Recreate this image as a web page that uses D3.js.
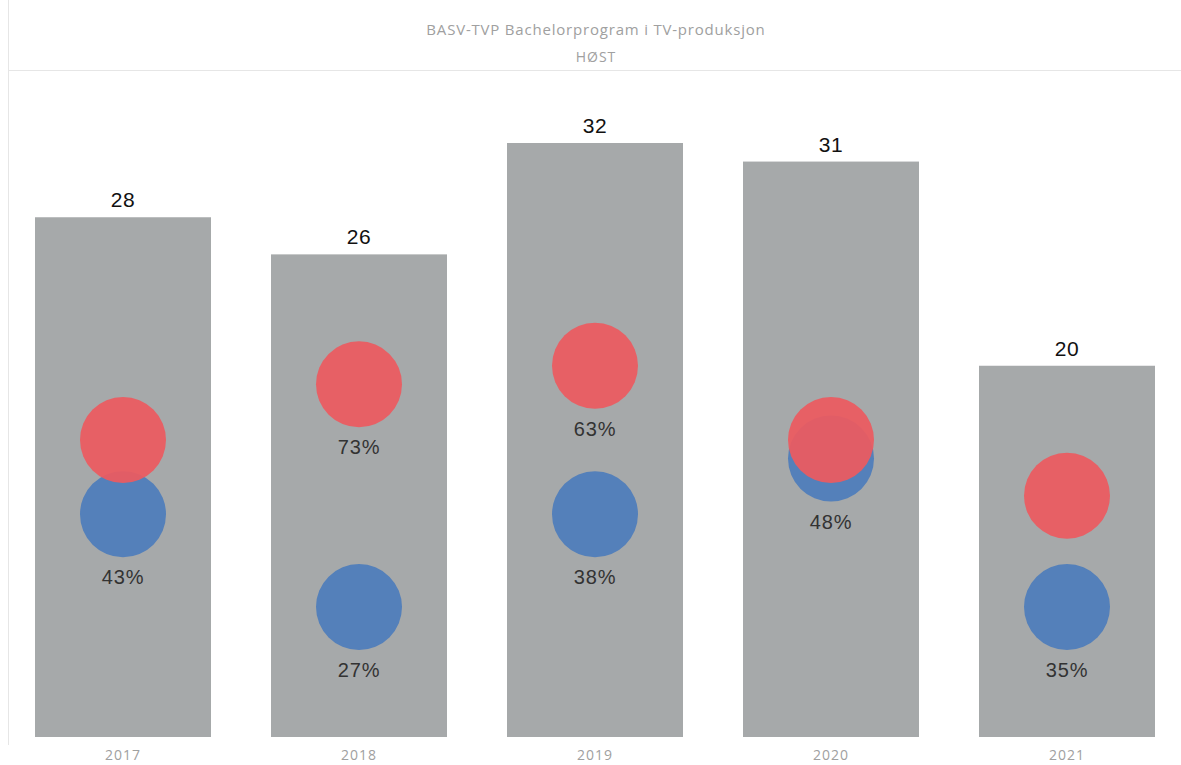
<!DOCTYPE html>
<html><head><meta charset="utf-8">
<script src="https://cdn.jsdelivr.net/npm/d3@7"></script>
<style>body{margin:0;background:#fff}svg{display:block}</style>
</head><body>
<svg id="c" width="1181" height="765"></svg>
<script>
const years = ["2017","2018","2019","2020","2021"];
const totals = [28,26,32,31,20];
const femaleCounts = [16,19,20,16,13];
const maleCounts = [12,7,12,15,7];
const femaleLabels = [null,"73%","63%",null,null];
const maleLabels = ["43%","27%","38%","48%","35%"];
const title = "BASV-TVP Bachelorprogram i TV-produksjon";
const subtitle = "HØST";

const svg = d3.select("#c");
const x = d3.scaleBand().domain(years).range([5,1185]).paddingInner(60/236).paddingOuter(30/236);
const y = d3.scaleLinear().domain([0,32]).range([737,143]);

// card borders
svg.append("line").attr("x1",8).attr("x2",1181).attr("y1",70.5).attr("y2",70.5).attr("stroke","#e6e6e6");
svg.append("line").attr("x1",8.5).attr("x2",8.5).attr("y1",0).attr("y2",745).attr("stroke","#e6e6e6");

svg.append("text").attr("x",596).attr("y",35).attr("text-anchor","middle")
  .attr("font-family","Open Sans, sans-serif").attr("font-size",15).attr("letter-spacing",0.8)
  .attr("fill","#a0a0a0").text(title);
svg.append("text").attr("x",596).attr("y",62).attr("text-anchor","middle")
  .attr("font-family","Open Sans, sans-serif").attr("font-size",14).attr("letter-spacing",1)
  .attr("fill","#a0a0a0").text(subtitle);

const g = svg.append("g");
g.selectAll("rect.bar").data(years).join("rect").attr("class","bar")
  .attr("x",d=>x(d)).attr("width",x.bandwidth())
  .attr("y",(d,i)=>y(totals[i])).attr("height",(d,i)=>y(0)-y(totals[i]))
  .attr("fill","#a6a9aa");

g.selectAll("text.tot").data(years).join("text").attr("class","tot")
  .attr("x",d=>x(d)+x.bandwidth()/2).attr("y",(d,i)=>y(totals[i])-10)
  .attr("text-anchor","middle").attr("font-family","Liberation Sans, Arial, sans-serif")
  .attr("font-size",21).attr("letter-spacing",0.5).attr("fill","#111").text((d,i)=>totals[i]);

const r = 43;
g.selectAll("circle.m").data(years).join("circle").attr("class","m")
  .attr("cx",d=>x(d)+x.bandwidth()/2).attr("cy",(d,i)=>y(maleCounts[i])).attr("r",r)
  .attr("fill","#4f7dba").attr("opacity",0.95);
g.selectAll("circle.f").data(years).join("circle").attr("class","f")
  .attr("cx",d=>x(d)+x.bandwidth()/2).attr("cy",(d,i)=>y(femaleCounts[i])).attr("r",r)
  .attr("fill","#ec5a60").attr("opacity",0.93);

function pctLabels(counts, labels, cls){
  g.selectAll("text."+cls).data(years.map((d,i)=>({d,i})).filter(o=>labels[o.i]!==null)).join("text").attr("class",cls)
    .attr("x",o=>x(o.d)+x.bandwidth()/2).attr("y",o=>y(counts[o.i])+70)
    .attr("text-anchor","middle").attr("font-family","Liberation Sans, Arial, sans-serif")
    .attr("font-size",20).attr("letter-spacing",0.8).attr("fill","#333").text(o=>labels[o.i]);
}
pctLabels(maleCounts, maleLabels, "ml");
pctLabels(femaleCounts, femaleLabels, "fl");

g.selectAll("text.yr").data(years).join("text").attr("class","yr")
  .attr("x",d=>x(d)+x.bandwidth()/2).attr("y",760)
  .attr("text-anchor","middle").attr("font-family","Open Sans, sans-serif")
  .attr("font-size",14).attr("letter-spacing",1).attr("fill","#a0a0a0").text(d=>d);
</script>
</body></html>
